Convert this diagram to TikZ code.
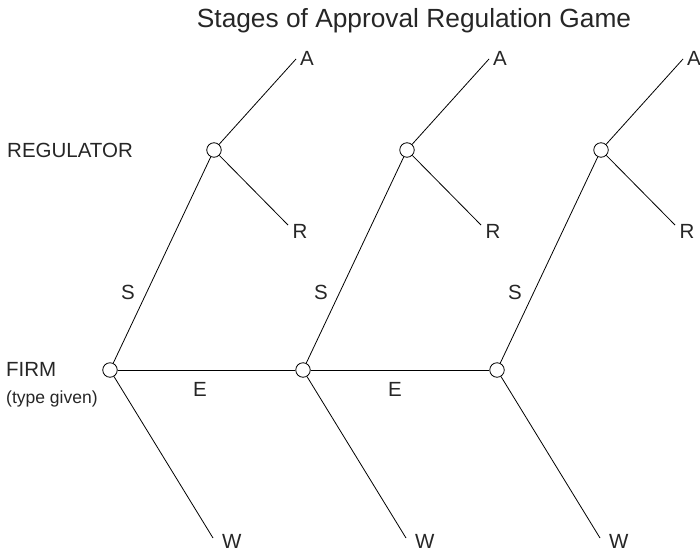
\documentclass[tikz,border=0pt]{standalone}
\usepackage{fontspec}
\setmainfont{Liberation Sans}
\begin{document}
\begin{tikzpicture}[x=1pt,y=-1pt,
  dec/.style={circle,draw=black,fill=white,line width=0.8pt,minimum size=14.5pt,inner sep=0pt},
  edge/.style={draw=black,line width=0.8pt},
  lab/.style={font=\fontsize{20.5}{22}\selectfont,text=black!85,inner sep=0pt}]
\useasboundingbox (0,0) rectangle (700,554);
\node[anchor=base,inner sep=0pt,font=\fontsize{26.3}{28}\selectfont,text=black!85] (title) at (414,27) {Stages of Approval Regulation Game};
\node[lab,anchor=base west] (reg) at (7,157.5) {REGULATOR};
\node[lab,anchor=base west] (firm) at (6,376) {FIRM};
\node[anchor=base west,inner sep=0pt,font=\fontsize{17.5}{19}\selectfont,text=black!85] (tg) at (6,403) {(type given)};
% coordinates of leaves
\foreach \i/\fx/\rx in {1/110/214, 2/303/407, 3/497/601}{
  \coordinate (a\i) at (\rx+82,59);
  \coordinate (r\i) at (\rx+74,225);
  \coordinate (w\i) at (\fx+103,538);
}
\node[dec] (F1) at (110,370) {};
\node[dec] (F2) at (303,370) {};
\node[dec] (F3) at (497,370) {};
\node[dec] (R1) at (214,150) {};
\node[dec] (R2) at (407,150) {};
\node[dec] (R3) at (601,150) {};
\foreach \i in {1,2,3}{
  \draw[edge] (F\i) -- (R\i);
  \draw[edge] (R\i) -- (a\i);
  \draw[edge] (R\i) -- (r\i);
  \draw[edge] (F\i) -- (w\i);
  \node[lab,anchor=base west] (la\i) at ([xshift=4pt,yshift=-6pt]a\i) {A};
  \node[lab,anchor=base west] (lr\i) at ([xshift=4.5pt,yshift=-13pt]r\i) {R};
  \node[lab,anchor=base west] (lw\i) at ([xshift=9pt,yshift=-10pt]w\i) {W};
}
\draw[edge] (F1) -- (F2);
\draw[edge] (F2) -- (F3);
\node[lab,anchor=base] (s1) at (128,299) {S};
\node[lab,anchor=base] (s2) at (321,299) {S};
\node[lab,anchor=base] (s3) at (515,299) {S};
\node[lab,anchor=base] (e1) at (200,396) {E};
\node[lab,anchor=base] (e2) at (395,396) {E};
\end{tikzpicture}
\end{document}
